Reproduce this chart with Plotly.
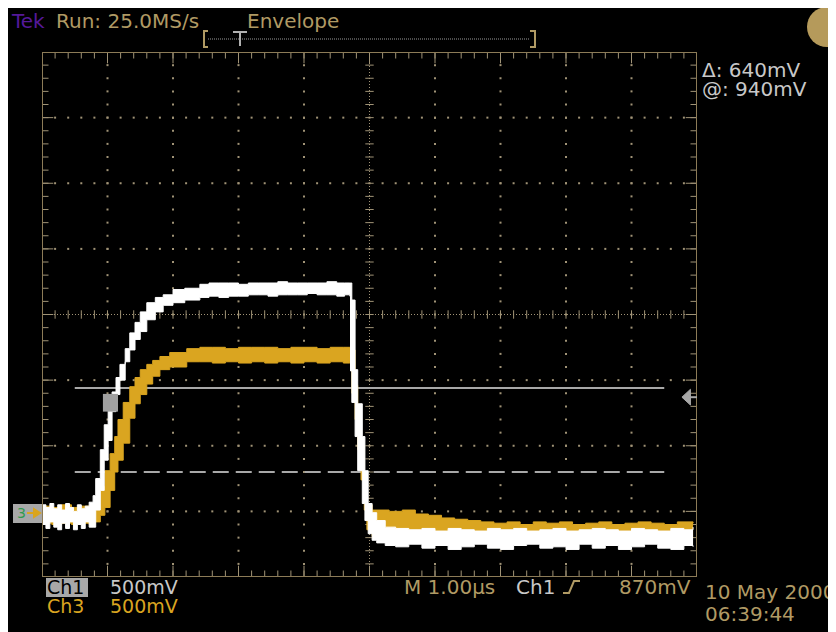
import numpy as np
import plotly.graph_objects as go

# ---------------- data (time in µs from left edge of screen, volts) ----------------
ch1_time = [0.00, 0.06, 0.12, 0.18, 0.24, 0.30, 0.36, 0.42, 0.48, 0.54, 0.60, 0.66, 0.72, 0.78,
            0.82, 0.89, 0.95, 1.01, 1.07, 1.13, 1.19, 1.27, 1.34, 1.42, 1.50, 1.60, 1.73, 1.85, 2.00, 2.18, 2.41,
            2.55, 2.70, 2.85, 3.00, 3.15, 3.30, 3.45, 3.60, 3.75, 3.90, 4.05, 4.20, 4.35, 4.50, 4.62, 4.70,
            4.71, 4.73, 4.78, 4.82, 4.89, 4.93, 4.98, 5.04, 5.11, 5.24,
            5.40, 5.60, 5.80, 6.00, 6.20, 6.40, 6.60, 6.80, 7.00, 7.20, 7.40, 7.60, 7.80, 8.00,
            8.20, 8.40, 8.60, 8.80, 9.00, 9.20, 9.40, 9.60, 9.80, 9.94]
ch1_high = [0.05, 0.03, 0.06, 0.02, 0.05, 0.01, 0.06, 0.03, 0.00, 0.05, 0.02, 0.04, 0.07, 0.12,
            0.25, 0.47, 0.66, 0.83, 0.91, 1.02, 1.12, 1.24, 1.36, 1.44, 1.52, 1.59, 1.63, 1.65, 1.69, 1.70, 1.73,
            1.74, 1.74, 1.74, 1.73, 1.74, 1.74, 1.74, 1.75, 1.74, 1.74, 1.74, 1.74, 1.75, 1.74, 1.74, 1.74,
            1.74, 1.61, 1.08, 0.82, 0.57, 0.31, 0.06, -0.01, -0.07, -0.12,
            -0.13, -0.14, -0.13, -0.15, -0.13, -0.14, -0.15, -0.13, -0.14, -0.13, -0.15, -0.14, -0.13, -0.15,
            -0.14, -0.13, -0.14, -0.15, -0.13, -0.14, -0.15, -0.13, -0.14, -0.12]
ch1_low = [-0.10, -0.13, -0.08, -0.12, -0.14, -0.09, -0.13, -0.08, -0.14, -0.10, -0.13, -0.08, -0.12, -0.12,
           0.01, 0.16, 0.39, 0.54, 0.76, 0.89, 1.00, 1.14, 1.23, 1.31, 1.37, 1.46, 1.52, 1.57, 1.59, 1.61, 1.63,
           1.64, 1.63, 1.64, 1.64, 1.65, 1.65, 1.64, 1.65, 1.65, 1.65, 1.66, 1.65, 1.65, 1.64, 1.65, 1.64,
           1.07, 0.83, 0.57, 0.31, 0.06, -0.07, -0.17, -0.22, -0.24, -0.26,
           -0.27, -0.25, -0.28, -0.26, -0.29, -0.27, -0.25, -0.28, -0.29, -0.26, -0.25, -0.28, -0.27, -0.29,
           -0.25, -0.28, -0.26, -0.29, -0.27, -0.25, -0.28, -0.29, -0.26, -0.27]

ch3_time = [0.00, 0.15, 0.30, 0.45, 0.60, 0.72, 0.81, 0.89, 0.96, 1.04, 1.11, 1.16, 1.24, 1.34, 1.42, 1.50,
            1.60, 1.69, 1.80, 1.95, 2.21, 2.41,
            2.60, 2.80, 3.00, 3.20, 3.40, 3.60, 3.80, 4.00, 4.20, 4.40, 4.60, 4.70,
            4.73, 4.78, 4.82, 4.87, 4.92, 4.96, 5.04, 5.13,
            5.30, 5.50, 5.70, 5.90, 6.10, 6.30, 6.50, 6.70, 6.90, 7.10, 7.30, 7.50, 7.70, 7.90,
            8.10, 8.30, 8.50, 8.70, 8.90, 9.10, 9.30, 9.50, 9.70, 9.94]
ch3_high = [0.04, 0.03, 0.05, 0.03, 0.04, 0.04, 0.06, 0.19, 0.31, 0.44, 0.57, 0.70, 0.83, 0.95, 1.02, 1.08,
            1.12, 1.15, 1.18, 1.21, 1.24, 1.25,
            1.25, 1.24, 1.25, 1.25, 1.25, 1.24, 1.25, 1.25, 1.24, 1.25, 1.25, 1.25,
            1.23, 0.96, 0.73, 0.50, 0.24, 0.05, 0.01, 0.01,
            0.00, 0.01, -0.02, -0.03, -0.05, -0.06, -0.07, -0.08, -0.09, -0.08, -0.10, -0.08, -0.09, -0.08,
            -0.10, -0.09, -0.08, -0.10, -0.09, -0.08, -0.09, -0.10, -0.08, -0.09]
ch3_low = [-0.09, -0.10, -0.09, -0.10, -0.09, -0.10, -0.08, -0.03, 0.03, 0.16, 0.30, 0.39, 0.52, 0.71, 0.82, 0.89,
           0.97, 1.03, 1.08, 1.10, 1.14, 1.14,
           1.13, 1.14, 1.13, 1.14, 1.13, 1.14, 1.13, 1.14, 1.13, 1.14, 1.13, 1.14,
           0.90, 0.70, 0.47, 0.24, 0.01, -0.14, -0.19, -0.20,
           -0.20, -0.20, -0.20, -0.20, -0.20, -0.20, -0.20, -0.20, -0.20, -0.20, -0.20, -0.20, -0.20, -0.20,
           -0.20, -0.20, -0.20, -0.20, -0.20, -0.20, -0.20, -0.20, -0.20, -0.20]

VOLTS_PER_DIV = 0.5
GROUND_DIV = -3.0          # both channel ground markers
CURSOR_A_V = 0.94          # "@: 940mV"
CURSOR_DELTA_V = 0.64      # "Δ: 640mV"
TRIGGER_V = 0.87           # "870mV"
CURSOR_SPAN = [0.5, 9.5]
TRIG_BOX_T = [0.93, 1.16]

# ---------------- colours ----------------
TAN = '#B09A64'
BORDER = '#8C7B57'
GRID = '#A09376'
YELLOW = '#DAA520'
WHITE = '#FFFFFF'
LGRAY = '#C8C8C8'
CURSOR = '#A8A8A8'
FONT = 'DejaVu Sans'

W, H = 836, 632
OFF = 8                       # page body margin
L, R, T, B = 42, 697, 52, 577  # graticule edges in screen pixels


def px(x):
    return (x - L) / (R - L)


def py(y):
    return (B - y) / (B - T)


def to_div(v):
    return [val / VOLTS_PER_DIV + GROUND_DIV for val in v]


fig = go.Figure()

# ---------------- graticule ----------------
minor_x = np.round(np.arange(0, 10.001, 0.2), 2)
minor_y = np.round(np.arange(-4, 4.001, 0.2), 2)
gx, gy = [], []
for xv in range(1, 10):
    if xv == 5:
        continue
    for yv in minor_y[1:-1]:
        gx.append(xv); gy.append(yv)
for yv in range(-3, 4):
    if yv == 0:
        continue
    for xv in minor_x[1:-1]:
        gx.append(xv); gy.append(yv)
fig.add_trace(go.Scatter(x=gx, y=gy, mode='markers', hoverinfo='skip', showlegend=False,
                         marker=dict(symbol='square', size=2, color=GRID, line=dict(width=0))))

fig.add_trace(go.Scatter(x=[5, 5], y=[-4, 4], mode='lines', hoverinfo='skip', showlegend=False,
                         line=dict(color=GRID, width=1, dash='1px,2px')))
fig.add_trace(go.Scatter(x=[0, 10], y=[0, 0], mode='lines', hoverinfo='skip', showlegend=False,
                         line=dict(color=GRID, width=1, dash='1px,2px')))
fig.add_trace(go.Scatter(x=[5] * len(minor_y), y=minor_y, mode='markers', hoverinfo='skip', showlegend=False,
                         marker=dict(symbol='line-ew', size=6, line=dict(color=GRID, width=1))))
fig.add_trace(go.Scatter(x=minor_x, y=[0] * len(minor_x), mode='markers', hoverinfo='skip', showlegend=False,
                         marker=dict(symbol='line-ns', size=6, line=dict(color=GRID, width=1))))

dx1 = 1 / 65.5
dy1 = 1 / 65.6
for yb, sgn in [(4, -1), (-4, 1)]:
    fig.add_trace(go.Scatter(x=minor_x[1:-1], y=[yb + sgn * 3 * dy1] * (len(minor_x) - 2), mode='markers',
                             hoverinfo='skip', showlegend=False,
                             marker=dict(symbol='line-ns', size=5, line=dict(color=GRID, width=1))))
    fig.add_trace(go.Scatter(x=list(range(1, 10)), y=[yb + sgn * 5 * dy1] * 9, mode='markers',
                             hoverinfo='skip', showlegend=False,
                             marker=dict(symbol='line-ns', size=9, line=dict(color=GRID, width=1))))
for xb, sgn in [(0, 1), (10, -1)]:
    fig.add_trace(go.Scatter(x=[xb + sgn * 3 * dx1] * (len(minor_y) - 2), y=minor_y[1:-1], mode='markers',
                             hoverinfo='skip', showlegend=False,
                             marker=dict(symbol='line-ew', size=5, line=dict(color=GRID, width=1))))
    fig.add_trace(go.Scatter(x=[xb + sgn * 5 * dx1] * 7, y=list(range(-3, 4)), mode='markers',
                             hoverinfo='skip', showlegend=False,
                             marker=dict(symbol='line-ew', size=9, line=dict(color=GRID, width=1))))

# ---------------- cursors ----------------
ya = to_div([CURSOR_A_V])[0]
yb_ = to_div([CURSOR_A_V - CURSOR_DELTA_V])[0]
fig.add_trace(go.Scatter(x=CURSOR_SPAN, y=[ya, ya], mode='lines', hoverinfo='skip', showlegend=False,
                         line=dict(color=CURSOR, width=2)))
fig.add_trace(go.Scatter(x=CURSOR_SPAN, y=[yb_, yb_], mode='lines', hoverinfo='skip', showlegend=False,
                         line=dict(color=CURSOR, width=2, dash='16px,7px')))

# ---------------- waveforms (envelope) ----------------
for t, hi, lo, col in [(ch3_time, ch3_high, ch3_low, YELLOW), (ch1_time, ch1_high, ch1_low, WHITE)]:
    fig.add_trace(go.Scatter(x=t, y=to_div(lo), mode='lines', hoverinfo='skip', showlegend=False,
                             line=dict(color=col, width=1, shape='hv')))
    fig.add_trace(go.Scatter(x=t, y=to_div(hi), mode='lines', hoverinfo='skip', showlegend=False,
                             line=dict(color=col, width=1, shape='hv'), fill='tonexty', fillcolor=col))

shapes = []
shapes.append(dict(type='rect', xref='x', yref='y', x0=0, x1=10, y0=-4, y1=4,
                   line=dict(color=BORDER, width=2), layer='above'))
yt = to_div([TRIGGER_V])[0]
shapes.append(dict(type='path', xref='x', yref='y',
                   path=f'M 9.77,{yt} L 9.90,{yt + 0.12} L 9.90,{yt - 0.12} Z',
                   fillcolor=CURSOR, line=dict(color=CURSOR, width=1), layer='above'))
shapes.append(dict(type='line', xref='x', yref='y', x0=9.88, x1=10, y0=yt, y1=yt,
                   line=dict(color=CURSOR, width=2), layer='above'))
shapes.append(dict(type='rect', xref='x', yref='y', x0=TRIG_BOX_T[0], x1=TRIG_BOX_T[1],
                   y0=yt + 0.05, y1=yt - 0.22, fillcolor='#A0A0A0', line=dict(width=0), layer='above'))


def prect(x0, y0, x1, y1, fill, layer='above'):
    shapes.append(dict(type='rect', xref='paper', yref='paper', x0=px(x0), x1=px(x1), y0=py(y1), y1=py(y0),
                       fillcolor=fill, line=dict(width=0), layer=layer))


def ppath(points, color, width=2, fill=None, closed=False):
    p = 'M ' + ' L '.join(f'{px(a)},{py(b)}' for a, b in points)
    if closed:
        p += ' Z'
    d = dict(type='path', xref='paper', yref='paper', path=p, line=dict(color=color, width=width), layer='above')
    if fill:
        d['fillcolor'] = fill
    shapes.append(d)


# logo
shapes.append(dict(type='circle', xref='paper', yref='paper', x0=px(807), x1=px(847), y0=py(47), y1=py(7),
                   fillcolor='#B59A5B', line=dict(width=0), layer='above'))
shapes.append(dict(type='circle', xref='paper', yref='paper', x0=px(831), x1=px(847), y0=py(29), y1=py(13),
                   fillcolor='black', line=dict(width=0), layer='above'))

# record bar
ppath([(208, 31), (204, 31), (204, 47), (208, 47)], TAN, 2)
ppath([(530, 31), (535, 31), (535, 47), (530, 47)], TAN, 2)
shapes.append(dict(type='line', xref='paper', yref='paper', x0=px(208), x1=px(530), y0=py(39), y1=py(39),
                   line=dict(color='#9A9A9A', width=1, dash='1px,1px'), layer='above'))
ppath([(233, 32), (247, 32)], '#B0B0B0', 2)
ppath([(240, 32), (240, 46)], '#B0B0B0', 2)

# ground marker box
prect(13, 504, 42, 523, '#A8A8A8')
ppath([(27, 513), (36, 513)], YELLOW, 2)
ppath([(34, 509), (40, 513), (34, 517)], YELLOW, 2, fill=YELLOW, closed=True)

# Ch1 label box
prect(46, 578, 88, 597, '#A8A8A8')

# rising edge icon
ppath([(563, 593), (569, 593), (574, 581), (580, 581)], TAN, 2)

fig.update_layout(shapes=shapes)


def txt(s, x, y, color, size=19, yanchor='middle'):
    fig.add_annotation(text=s, xref='paper', yref='paper', x=px(x), y=py(y), xanchor='left', yanchor=yanchor,
                       showarrow=False, borderpad=0,
                       font=dict(family=FONT, size=size, color=color))


txt('Tek', 10, OFF + 0.5, '#55199A', 20, 'top')
txt('Run: 25.0MS/s', 55, OFF + 0.5, TAN, 20, 'top')
txt('Envelope', 246, OFF + 0.5, TAN, 20, 'top')
txt('Δ: 640mV', 701, 70, LGRAY, 20)
txt('@: 940mV', 701, 89, LGRAY, 20)
txt('3', 16, 513, '#2E9B4E', 14)
txt('Ch1', 46, 587, 'black')
txt('500mV', 109, 587, LGRAY)
txt('Ch3', 46, 606, YELLOW)
txt('500mV', 109, 606, YELLOW)
txt('M 1.00µs', 403, 587, TAN, 20)
txt('Ch1', 515, 587, LGRAY, 20)
txt('870mV', 618, 587, TAN, 20)
txt('10 May 2000', 704, 592, TAN, 20)
txt('06:39:44', 704, 614, TAN, 20)

fig.update_layout(
    width=W, height=H,
    margin=dict(l=L - OFF, r=W - (R - OFF), t=T - OFF, b=H - (B - OFF), pad=0),
    paper_bgcolor='black', plot_bgcolor='black',
    xaxis=dict(range=[0, 10], visible=False, fixedrange=True),
    yaxis=dict(range=[-4, 4], visible=False, fixedrange=True),
    showlegend=False,
)

fig.write_html('out.html')
